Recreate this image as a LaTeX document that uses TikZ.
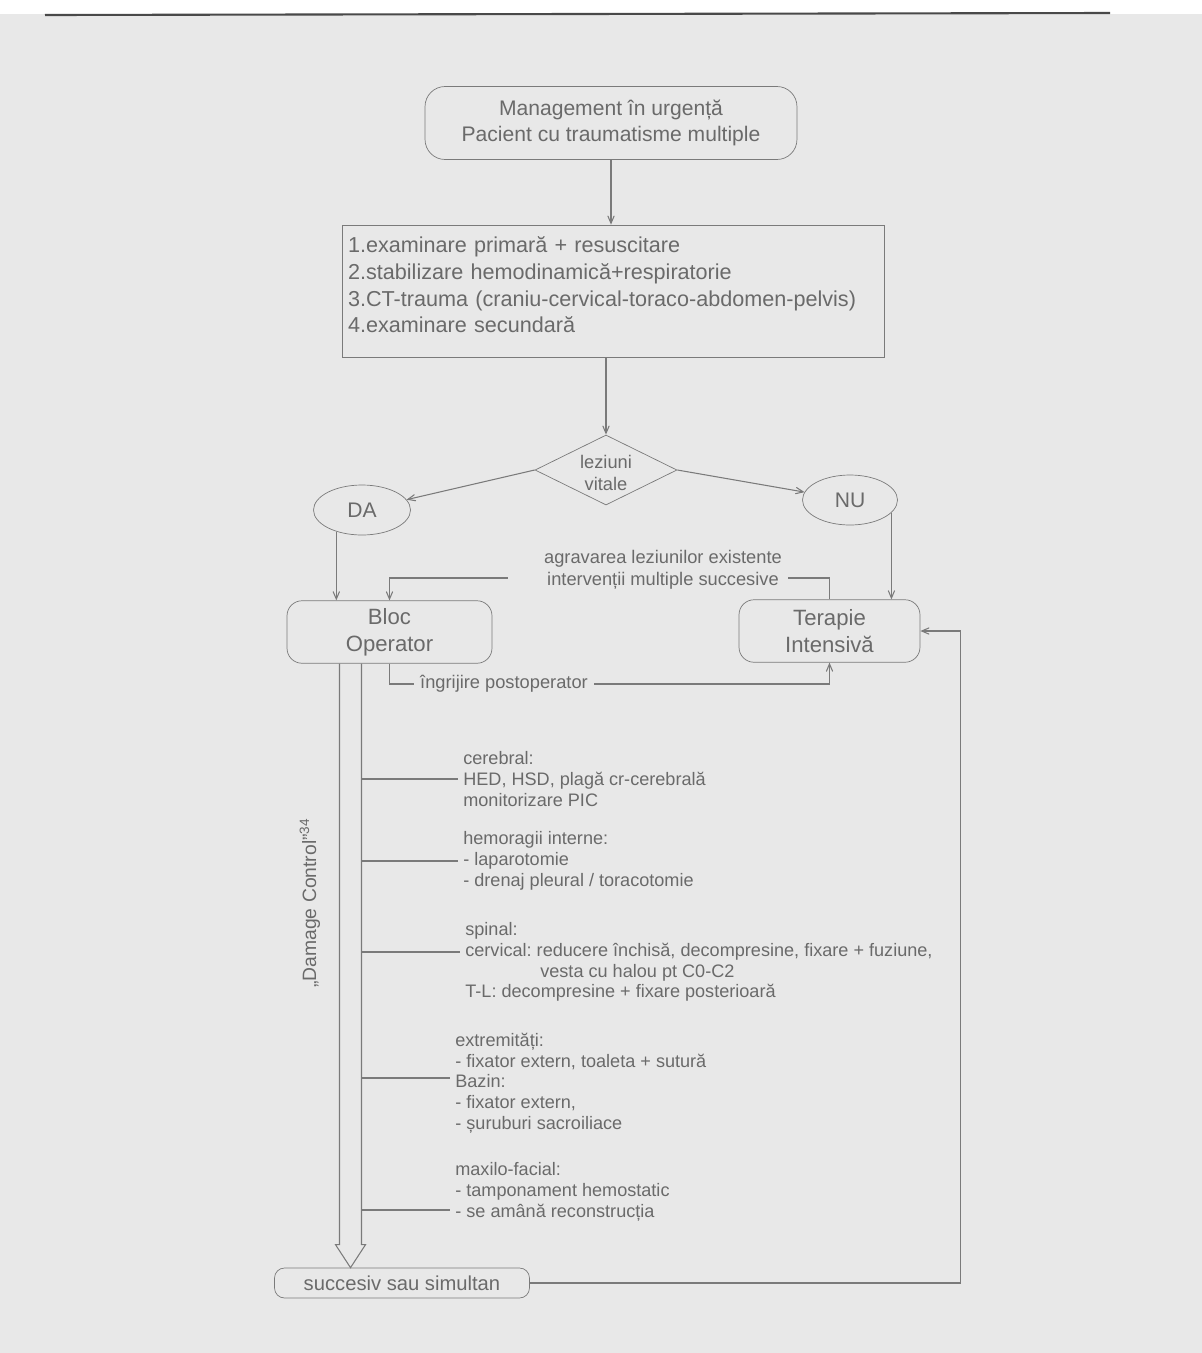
\documentclass[tikz,border=0pt]{standalone}
\usepackage{fontspec}
\setmainfont{Liberation Sans}
\usepackage{tikz}
\usetikzlibrary{shapes.geometric, arrows, calc}
\definecolor{paper}{HTML}{E8E8E8}
\definecolor{ink}{HTML}{7A7A7A}
\definecolor{txt}{HTML}{6A6A6A}
\tikzstyle{startstop} = [rectangle, rounded corners=0.4cm, minimum width=7.44cm, minimum height=1.46cm, text centered, align=center, draw=ink, text=txt, font=\fontsize{12}{14.8}\selectfont]
\tikzstyle{process} = [rectangle, minimum width=10.84cm, minimum height=2.64cm, inner xsep=0.12cm, text width=10.6cm, align=left, draw=ink, text=txt, font=\fontsize{12.3}{15.3}\selectfont]
\tikzstyle{decision} = [diamond, minimum width=2.84cm, minimum height=1.4cm, inner sep=0pt, draw=ink]
\tikzstyle{answer} = [ellipse, draw=ink, text=txt, font=\fontsize{12}{14}\selectfont]
\tikzstyle{unit} = [rectangle, rounded corners=0.3cm, minimum height=1.25cm, align=center, draw=ink, text=txt, font=\fontsize{12.6}{15.2}\selectfont]
\tikzstyle{endbox} = [rectangle, rounded corners=0.2cm, minimum width=5.1cm, minimum height=0.6cm, draw=ink, text=txt, font=\fontsize{11.5}{13}\selectfont]
\tikzstyle{note} = [text=txt, align=center, font=\fontsize{10.4}{12.6}\selectfont]
\tikzstyle{branch} = [anchor=west, text=txt, align=left, inner xsep=0.1cm, font=\fontsize{10.3}{11.8}\selectfont]
\tikzstyle{conn} = [draw=ink, line width=0.6pt]
\tikzstyle{arrow} = [conn, ->, >=angle 45]

\begin{document}
\frenchspacing
\begin{tikzpicture}[x=0.02cm, y=0.02cm]
	\fill[white] (0,0) rectangle (1202,-1353);
	\fill[paper] (0,-14) rectangle (1202,-1353);
	\draw[ink!60!black, line width=1.2pt] (45,-15) -- (1110,-13);
	\useasboundingbox (0,0) rectangle (1202,-1353);

	\node[startstop](mgmt) at (611,-123){Management în urgență\\Pacient cu traumatisme multiple};
	\node[process](steps) at (613,-291){1.examinare primară + resuscitare\\2.stabilizare hemodinamică+respiratorie\\3.CT-trauma (craniu-cervical-toraco-abdomen-pelvis)\\4.examinare secundară\\[-8pt]\mbox{}};
	\node[decision](decide) at (606,-470){};
	\node[note](decide_txt) at ([yshift=-0.06cm]decide){leziuni\\vitale};
	\node[answer, minimum width=1.94cm, minimum height=1cm](da) at (362,-510){DA};
	\node[answer, minimum width=1.9cm, minimum height=1cm](nu) at (850,-500){NU};
	\node[unit, minimum width=4.1cm](bloc_op) at (389.5,-632){Bloc\\Operator};
	\node[unit, minimum width=3.62cm](ter_int) at (829.5,-631){Terapie\\Intensivă};
	\node[note](agrav) at (663,-570){agravarea leziunilor existente\\intervenții multiple succesive};
	\node[note](ingrij) at (504,-684){îngrijire postoperator};
	\node[endbox](succ) at (402,-1283){succesiv sau simultan};
	\node[note, rotate=90, font=\fontsize{11}{13}\selectfont](dmg_ctrl) at (310,-903){„Damage Control”\textsuperscript{34}};

	\node[branch](cerebral) at (458,-779){cerebral:\\HED, HSD, plagă cr-cerebrală\\monitorizare PIC};
	\node[branch](hemorag) at (458,-861){hemoragii interne:\\- laparotomie\\- drenaj pleural / toracotomie};
	\node[branch](spinal) at (460,-962){spinal:\\cervical: reducere închisă, decompresine, fixare + fuziune,\\\hspace*{1.5cm}vesta cu halou pt C0-C2\\T-L: decompresine + fixare posterioară};
	\node[branch](extrem) at (450,-1083){extremități:\\- fixator extern, toaleta + sutură\\Bazin:\\- fixator extern,\\- șuruburi sacroiliace};
	\node[branch](maxilo) at (450,-1192){maxilo-facial:\\- tamponament hemostatic\\- se amână reconstrucția};

	\draw[arrow] (mgmt) -- (mgmt |- steps.north);
	\draw[arrow] (decide |- steps.south) -- (decide);
	\draw[arrow] (decide.west) -- (da);
	\draw[arrow] (decide.east) -- (nu);
	\draw[arrow] (da.220) -- (da.220 |- bloc_op.north);
	\draw[arrow] (nu.-17) -- (nu.-17 |- ter_int.north);
	\draw[conn] (ter_int.north) |- ([yshift=-0.16cm]agrav.east);
	\draw[arrow] ([xshift=-0.6cm,yshift=-0.16cm]agrav.west) -| (bloc_op.north);
	\draw[conn] (bloc_op.south) |- (ingrij.west);
	\draw[arrow] (ingrij.east) -| (ter_int.south);
	\draw[arrow] (succ.east) -| ([xshift=0.8cm]ter_int.east) -- (ter_int.east);

	% damage control arrow
	\coordinate (dc_top) at ([xshift=-0.78cm]bloc_op.south);
	\coordinate (dc_tip) at (dc_top |- succ.north);
	\draw[conn] ($(dc_top)+(-11,0)$) -- ($(dc_tip)+(-11,23)$) -- ($(dc_tip)+(-15,23)$) -- (dc_tip) -- ($(dc_tip)+(15,23)$) -- ($(dc_tip)+(11,23)$) -- ($(dc_top)+(11,0)$);
	\foreach \b/\dy in {cerebral/0, hemorag/0, spinal/10, extrem/5, maxilo/-18}
		\draw[conn] ($(\b.west -| dc_top)+(11,\dy)$) -- ($(\b.west)+(0,\dy)$);
\end{tikzpicture}
\end{document}
